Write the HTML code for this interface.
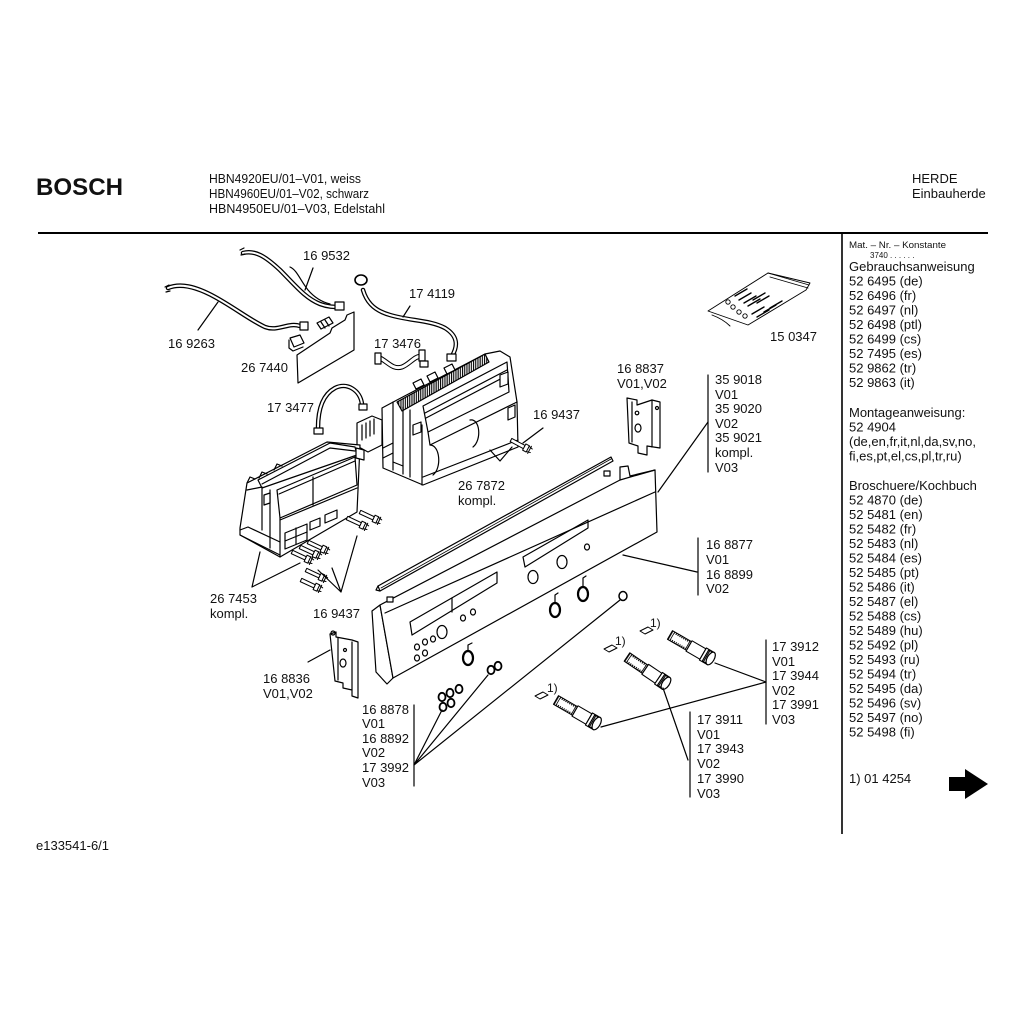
<!DOCTYPE html>
<html><head><meta charset="utf-8"><style>
html,body{margin:0;padding:0;background:#fff;}
svg{display:block;}
text{font-family:"Liberation Sans",Arial,sans-serif;fill:#111;}
.l{font-size:13px;}
</style></head><body>
<svg width="1024" height="1024" viewBox="0 0 1024 1024" xmlns="http://www.w3.org/2000/svg">
<defs>
<pattern id="hatch" width="2.2" height="4" patternUnits="userSpaceOnUse"><rect width="1.1" height="4" fill="#000"/></pattern>
<g id="pin"><rect x="0" y="-1.8" width="15" height="3.6" fill="#fff" stroke="#000" stroke-width="1"/><rect x="15" y="-3.5" width="4" height="7" fill="#fff" stroke="#000" stroke-width="1"/><path d="M19,-3 l4,1 M19,3 l4,-1 M21,-4 v8" stroke="#000" stroke-width="1"/></g>
<g id="shaft"><rect x="0" y="-5" width="22" height="10" fill="url(#hatch)" stroke="#000" stroke-width="1.1"/><rect x="3" y="-3" width="17" height="6" fill="#fff" stroke="none"/><rect x="22" y="-6" width="16" height="12" fill="#fff" stroke="#000" stroke-width="1.1"/><rect x="38" y="-7" width="9" height="14" fill="#fff" stroke="#000" stroke-width="1.1"/><rect x="41" y="-6.5" width="5" height="13" fill="url(#hatch)"/><ellipse cx="47" cy="0" rx="3.5" ry="7" fill="#fff" stroke="#000" stroke-width="1.2"/></g>
<g id="tag"><path d="M0,0 l8,-4 l5,3 l-8,4 z" fill="#fff" stroke="#000" stroke-width="1"/></g>
<g id="ring"><ellipse cx="0" cy="0" rx="5" ry="7" fill="#fff" stroke="#000" stroke-width="2.2"/></g>
<g id="btn"><ellipse cx="0" cy="0" rx="3.5" ry="4.2" fill="#fff" stroke="#000" stroke-width="1.8"/></g>
</defs>

<!-- header -->
<text x="36" y="195" style="font-size:24px;font-weight:bold;" textLength="87" lengthAdjust="spacingAndGlyphs">BOSCH</text>
<text class="l" x="209" y="183" textLength="152" lengthAdjust="spacingAndGlyphs">HBN4920EU/01–V01, weiss</text>
<text class="l" x="209" y="198" textLength="160" lengthAdjust="spacingAndGlyphs">HBN4960EU/01–V02, schwarz</text>
<text class="l" x="209" y="213" textLength="176" lengthAdjust="spacingAndGlyphs">HBN4950EU/01–V03, Edelstahl</text>
<text class="l" x="912" y="183">HERDE</text>
<text class="l" x="912" y="198">Einbauherde</text>

<line x1="38" y1="233" x2="988" y2="233" stroke="#000" stroke-width="2"/>
<line x1="842" y1="233" x2="842" y2="834" stroke="#000" stroke-width="1.6"/>

<!-- right column -->
<text x="849" y="248" style="font-size:9.5px" textLength="97" lengthAdjust="spacingAndGlyphs">Mat. – Nr. – Konstante</text>
<text x="870" y="258" style="font-size:8px">3740  .  .  .  .  .  .</text>
<g style="font-size:13px">
<text x="849" y="271">Gebrauchsanweisung
<tspan x="849" dy="14.5">52 6495 (de)</tspan>
<tspan x="849" dy="14.5">52 6496 (fr)</tspan>
<tspan x="849" dy="14.5">52 6497 (nl)</tspan>
<tspan x="849" dy="14.5">52 6498 (ptl)</tspan>
<tspan x="849" dy="14.5">52 6499 (cs)</tspan>
<tspan x="849" dy="14.5">52 7495 (es)</tspan>
<tspan x="849" dy="14.5">52 9862 (tr)</tspan>
<tspan x="849" dy="14.5">52 9863 (it)</tspan>
</text>
<text x="849" y="417">Montageanweisung:
<tspan x="849" dy="14.5">52 4904</tspan>
<tspan x="849" dy="14.5">(de,en,fr,it,nl,da,sv,no,</tspan>
<tspan x="849" dy="14.5">fi,es,pt,el,cs,pl,tr,ru)</tspan>
</text>
<text x="849" y="490">Broschuere/Kochbuch
<tspan x="849" dy="14.5">52 4870 (de)</tspan>
<tspan x="849" dy="14.5">52 5481 (en)</tspan>
<tspan x="849" dy="14.5">52 5482 (fr)</tspan>
<tspan x="849" dy="14.5">52 5483 (nl)</tspan>
<tspan x="849" dy="14.5">52 5484 (es)</tspan>
<tspan x="849" dy="14.5">52 5485 (pt)</tspan>
<tspan x="849" dy="14.5">52 5486 (it)</tspan>
<tspan x="849" dy="14.5">52 5487 (el)</tspan>
<tspan x="849" dy="14.5">52 5488 (cs)</tspan>
<tspan x="849" dy="14.5">52 5489 (hu)</tspan>
<tspan x="849" dy="14.5">52 5492 (pl)</tspan>
<tspan x="849" dy="14.5">52 5493 (ru)</tspan>
<tspan x="849" dy="14.5">52 5494 (tr)</tspan>
<tspan x="849" dy="14.5">52 5495 (da)</tspan>
<tspan x="849" dy="14.5">52 5496 (sv)</tspan>
<tspan x="849" dy="14.5">52 5497 (no)</tspan>
<tspan x="849" dy="14.5">52 5498 (fi)</tspan>
</text>
<text x="849" y="783">1) 01 4254</text>
</g>
<path d="M949,777 L965,777 L965,769 L988,784 L965,799 L965,791 L949,791 Z" fill="#000"/>

<text class="l" x="36" y="850">e133541-6/1</text>

<!-- ============ diagram ============ -->
<g fill="none" stroke="#000" stroke-width="1.2" stroke-linejoin="round" stroke-linecap="round">

<!-- cable 16 9532 -->
<path d="M243,253 C255,250 265,256 280,270 C295,285 305,298 320,304 C328,307 334,307 340,307" stroke-width="4.5"/>
<path d="M243,253 C255,250 265,256 280,270 C295,285 305,298 320,304 C328,307 334,307 340,307" stroke="#fff" stroke-width="2"/>
<path d="M290,267 C297,270 300,280 308,290 C314,297 322,302 330,304" />
<rect x="335" y="302" width="9" height="8" fill="#fff"/>
<path d="M240,250 l4,-2 M241,255 l4,-1"/>

<!-- cable 16 9263 -->
<path d="M168,288 C180,283 195,286 215,297 C235,308 250,320 265,327 C278,332 288,322 300,326" stroke-width="4.5"/>
<path d="M168,288 C180,283 195,286 215,297 C235,308 250,320 265,327 C278,332 288,322 300,326" stroke="#fff" stroke-width="2"/>
<rect x="300" y="322" width="8" height="8" fill="#fff"/>
<path d="M165,287 l4,-2 M166,292 l4,-1"/>

<!-- board 26 7440 -->
<path d="M297,355 L330,333 L332,328 L345,320 L347,315 L354,312 L354,350 L298,383 Z" fill="#fff"/>
<path d="M290,338 l10,-3 l4,8 l-10,4 z M289,340 l0,8 l4,3 l10,-4" fill="#fff"/>
<path d="M317,323 l12,-6 l4,6 l-12,6 z" fill="#fff"/>
<path d="M321,322 l4,6 M325,320 l4,6"/>

<!-- cable 17 4119 -->
<path d="M363,290 C366,300 372,310 390,315 C410,321 430,320 445,328 C458,336 458,346 452,356" stroke-width="4.5"/>
<path d="M363,290 C366,300 372,310 390,315 C410,321 430,320 445,328 C458,336 458,346 452,356" stroke="#fff" stroke-width="2"/>
<path d="M355,280 a6,5 0 1,0 12,0 a6,5 0 1,0 -12,0" fill="#fff" stroke-width="1.6"/>
<rect x="447" y="354" width="9" height="7" fill="#fff"/>

<!-- ribbon 17 3476 -->
<path d="M380,358 C388,362 393,370 402,367 C410,364 414,356 422,356" stroke-width="5"/>
<path d="M380,358 C388,362 393,370 402,367 C410,364 414,356 422,356" stroke="#fff" stroke-width="3"/>
<rect x="375" y="353" width="6" height="11" fill="#fff"/>
<rect x="419" y="350" width="6" height="11" fill="#fff"/>
<rect x="420" y="361" width="8" height="6" fill="#fff"/>

<!-- cable 17 3477 -->
<path d="M318,428 C318,410 322,395 335,388 C347,382 360,390 362,404" stroke-width="4.5"/>
<path d="M318,428 C318,410 322,395 335,388 C347,382 360,390 362,404" stroke="#fff" stroke-width="2"/>
<rect x="314" y="428" width="9" height="6" fill="#fff"/>
<rect x="359" y="404" width="8" height="6" fill="#fff"/>

<!-- controller box 26 7872 -->
<path d="M357,423 L372,416 L382,420 L382,445 L368,452 L357,446 Z" fill="#fff"/>
<path d="M362,425 v15 M366,423 v15 M370,421 v15 M374,419 v15"/>
<path d="M382,408 L397,400 L485,354 L500,351 L510,357 L517,402 L518,447 L423,485 L383,468 Z" fill="#fff"/>
<path d="M397,402 L485,354 L489,362 L402,411 Z" fill="url(#hatch)"/>
<path d="M423,406 L507,362 L509,392 L428,432 Z" fill="#fff"/>
<path d="M425,413 L507,370 M426,418 L508,375" />
<path d="M428,432 L430,445 L517,402"/>
<path d="M393,402 V470 M403,407 V474 M410,410 V477 M422,425 V485"/>
<path d="M423,477 L518,440"/>
<path d="M430,445 C440,445 442,468 433,475"/>
<path d="M470,420 C480,418 482,440 473,447"/>
<path d="M413,425 l8,-3 v10 l-8,3 z" fill="#fff"/>
<path d="M413,383 l8,-4 l3,6 l-8,4 z M427,376 l8,-4 l3,6 l-8,4 z M444,368 l8,-4 l3,6 l-8,4 z" fill="#fff"/>
<path d="M500,375 l8,-3 v12 l-8,3 z M508,408 l7,-3 v12 l-7,3 z" fill="#fff"/>
<path d="M383,448 L393,443 M383,458 L393,453 M393,462 L403,466"/>

<!-- pin upper -->
<use href="#pin" transform="translate(511,440) rotate(28)"/>

<!-- controller box 26 7453 -->
<path d="M240,528 L247,483 L327,442 L360,445 L357,512 L280,557 L240,535 Z" fill="#fff"/>
<path d="M258,480 L330,443 L355,447 L357,455 L262,488 Z" fill="#fff"/>
<path d="M262,484 L330,448 L355,451"/>
<path d="M277,490 L355,457 L357,485 L280,518 Z" fill="#fff"/>
<path d="M279,494 L355,461"/>
<path d="M313,477 V505"/>
<path d="M262,487 V530 M270,490 V548 M247,490 L262,487"/>
<path d="M280,518 V557"/>
<path d="M280,520 L357,488"/>
<path d="M285,533 l22,-9 v16 l-22,9 z" fill="#fff"/>
<path d="M285,541 l22,-9 M296,528 v16"/>
<path d="M310,522 l10,-4 v8 l-10,4 z M325,515 l12,-5 v8 l-12,5 z" fill="#fff"/>
<path d="M240,530 l8,-3 l32,15 M240,535 l40,20"/>
<path d="M247,483 l3,-6 l5,2 M259,478 l3,-6 l5,2 M274,470 l3,-6 l5,2"/>
<path d="M356,448 l8,2 v10 l-8,-2 z" fill="#fff"/>
<path d="M264,495 l6,-2 v10 l-6,2 z" fill="#fff"/>

<!-- pins 16 9437 lower -->
<use href="#pin" transform="translate(347,518) rotate(25)"/>
<use href="#pin" transform="translate(360,512) rotate(25)"/>
<use href="#pin" transform="translate(292,552) rotate(25)"/>
<use href="#pin" transform="translate(300,547) rotate(25)"/>
<use href="#pin" transform="translate(308,542) rotate(25)"/>
<use href="#pin" transform="translate(306,570) rotate(25)"/>
<use href="#pin" transform="translate(301,580) rotate(25)"/>

<!-- bag 15 0347 -->
<g stroke-width="0.9">
<path d="M708,311 L768,273 L810,283 L806,290 L748,325 Z" fill="#fff"/>
<path d="M768,273 L809,285 M770,277 L808,288"/>
<path d="M712,315 C720,318 726,322 730,326"/>
<path d="M735,296 l12,-7 M739,300 l12,-7 M744,303 l12,-7 M748,306 l12,-7 M753,300 l12,-7 M757,303 l12,-7 M752,314 l12,-7 M757,317 l12,-7 M764,312 l12,-7 M770,308 l12,-7" stroke-width="1.4"/>
<circle cx="728" cy="302" r="2.2"/><circle cx="733" cy="307" r="2.2"/><circle cx="739" cy="312" r="2.2"/><circle cx="745" cy="316" r="2.2"/>
</g>

<!-- bracket 16 8837 -->
<path d="M627,398 L637,400 L637,405 L652,400 L660,402 L660,448 L647,446 L647,455 L638,453 L638,446 L629,443 Z" fill="#fff"/>
<path d="M632,402 V442 M652,400 V447"/>
<circle cx="637" cy="413" r="1.8"/><ellipse cx="638" cy="428" rx="3" ry="4"/><circle cx="657" cy="408" r="1.5"/>

<!-- top strip -->
<path d="M378,586 L611,457 L613,461 L380,591 Z" fill="#fff"/>
<path d="M381,588 L611,459" stroke-width="0.8"/>
<path d="M378,586 l-2,4 l4,1"/>

<!-- front panel -->
<path d="M372,611 L380,605 L393,678 L387,684 L376,672 Z" fill="#fff"/>
<path d="M380,605 L620,480 L620,467 L628,466 L630,476 L655,470 L657,532 L393,678 Z" fill="#fff"/>
<path d="M385,613 L655,492"/>
<path d="M620,480 L655,470"/>
<path d="M410,622 L497,572 L497,583 L412,635 Z"/>
<path d="M452,598 V612"/>
<path d="M523,557 L588,520 L588,528 L525,567 Z"/>
<ellipse cx="442" cy="632" rx="5" ry="6.5"/>
<ellipse cx="533" cy="577" rx="5" ry="6.5"/>
<ellipse cx="562" cy="562" rx="5" ry="6.5"/>
<ellipse cx="463" cy="618" rx="2.5" ry="3"/>
<ellipse cx="473" cy="612" rx="2.5" ry="3"/>
<ellipse cx="587" cy="547" rx="2.5" ry="3"/>
<ellipse cx="417" cy="647" rx="2.5" ry="3"/>
<ellipse cx="425" cy="642" rx="2.5" ry="3"/>
<ellipse cx="433" cy="639" rx="2.5" ry="3"/>
<ellipse cx="417" cy="658" rx="2.5" ry="3"/>
<ellipse cx="425" cy="653" rx="2.5" ry="3"/>
<rect x="604" y="471" width="6" height="5" fill="#fff"/>
<rect x="387" y="597" width="6" height="5" fill="#fff"/>

<!-- rings & buttons -->
<use href="#ring" transform="translate(468,658)"/>
<use href="#ring" transform="translate(555,610)"/>
<use href="#ring" transform="translate(583,594)"/>
<ellipse cx="623" cy="596" rx="4" ry="4.5" stroke-width="1.5" fill="#fff"/>
<path d="M468,651 V645 L472,643 M555,603 V595 L558,593 M583,587 V578 L586,576"/>
<use href="#btn" transform="translate(491,670)"/>
<use href="#btn" transform="translate(498,666)"/>
<use href="#btn" transform="translate(442,697)"/>
<use href="#btn" transform="translate(450,693)"/>
<use href="#btn" transform="translate(459,689)"/>
<use href="#btn" transform="translate(443,707)"/>
<use href="#btn" transform="translate(451,703)"/>

<!-- bracket 16 8836 -->
<path d="M330,634 L336,632 L336,637 L352,640 L358,642 L358,698 L352,696 L352,690 L343,688 L343,683 L335,681 Z" fill="#fff"/>
<path d="M338,638 V680 M352,642 V690"/>
<circle cx="345" cy="650" r="1.5"/><ellipse cx="343" cy="663" rx="3" ry="4"/>
<circle cx="333" cy="633" r="2"/>

<!-- shafts and tags -->
<use href="#shaft" transform="translate(670,635) rotate(30)"/>
<use href="#shaft" transform="translate(627,657) rotate(34)"/>
<use href="#shaft" transform="translate(556,700) rotate(30)"/>
<use href="#tag" transform="translate(640,631)"/>
<use href="#tag" transform="translate(604,649)"/>
<use href="#tag" transform="translate(535,696)"/>

<!-- leader lines -->
<path d="M313,268 L305,290"/>
<path d="M218,302 L198,330"/>
<path d="M410,306 L403,317"/>
<path d="M543,428 L523,443"/>
<path d="M490,450 L500,461 L512,447"/>
<path d="M260,552 L252,587 L300,563"/>
<path d="M332,568 L341,592 L357,536"/>
<path d="M318,570 L341,592"/>
<path d="M308,662 L330,650"/>
<path d="M708,375 V472"/>
<path d="M708,422 L658,492"/>
<path d="M698,538 V595"/>
<path d="M697,572 L623,555"/>
<path d="M766,640 V724"/>
<path d="M766,682 L715,663 M766,682 L601,727"/>
<path d="M690,712 V797"/>
<path d="M688,760 L663,688"/>
<path d="M414,705 V786"/>
<path d="M414,765 L442,710 M414,765 L488,675 M414,765 L620,600"/>
</g>

<!-- labels -->
<g class="l" style="font-size:13px">
<text x="303" y="260">16 9532</text>
<text x="409" y="298">17 4119</text>
<text x="168" y="348">16 9263</text>
<text x="241" y="372">26 7440</text>
<text x="374" y="348">17 3476</text>
<text x="267" y="412">17 3477</text>
<text x="617" y="373">16 8837</text>
<text x="617" y="388">V01,V02</text>
<text x="715" y="384">35 9018</text>
<text x="715" y="399">V01</text>
<text x="715" y="413">35 9020</text>
<text x="715" y="428">V02</text>
<text x="715" y="442">35 9021</text>
<text x="715" y="457">kompl.</text>
<text x="715" y="472">V03</text>
<text x="533" y="419">16 9437</text>
<text x="770" y="341">15 0347</text>
<text x="458" y="490">26 7872</text>
<text x="458" y="505">kompl.</text>
<text x="706" y="549">16 8877</text>
<text x="706" y="564">V01</text>
<text x="706" y="579">16 8899</text>
<text x="706" y="593">V02</text>
<text x="210" y="603">26 7453</text>
<text x="210" y="618">kompl.</text>
<text x="313" y="618">16 9437</text>
<text x="263" y="683">16 8836</text>
<text x="263" y="698">V01,V02</text>
<text x="362" y="714">16 8878</text>
<text x="362" y="728">V01</text>
<text x="362" y="743">16 8892</text>
<text x="362" y="757">V02</text>
<text x="362" y="772">17 3992</text>
<text x="362" y="787">V03</text>
<text x="772" y="651">17 3912</text>
<text x="772" y="666">V01</text>
<text x="772" y="680">17 3944</text>
<text x="772" y="695">V02</text>
<text x="772" y="709">17 3991</text>
<text x="772" y="724">V03</text>
<text x="697" y="724">17 3911</text>
<text x="697" y="739">V01</text>
<text x="697" y="753">17 3943</text>
<text x="697" y="768">V02</text>
<text x="697" y="783">17 3990</text>
<text x="697" y="798">V03</text>
<text x="650" y="627" style="font-size:12px">1)</text>
<text x="615" y="645" style="font-size:12px">1)</text>
<text x="547" y="692" style="font-size:12px">1)</text>
</g>
</svg>
</body></html>
